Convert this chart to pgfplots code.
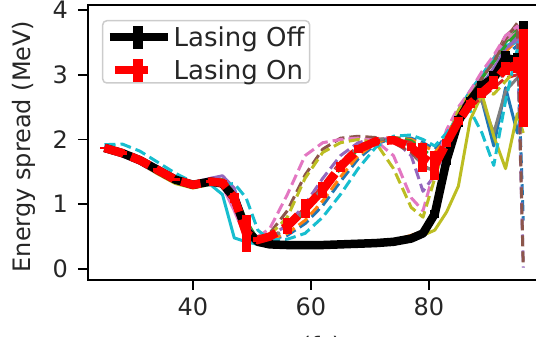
\documentclass[border=0pt]{standalone}
\usepackage{fontspec}
\setmainfont{DejaVu Sans}
\usepackage{pgfplots}
\usepackage{pgfplotstable}
\pgfplotsset{compat=1.18}
\definecolor{tb}{HTML}{1F77B4}
\definecolor{to}{HTML}{FF7F0E}
\definecolor{tg}{HTML}{2CA02C}
\definecolor{tr}{HTML}{D62728}
\definecolor{tp}{HTML}{9467BD}
\definecolor{tbr}{HTML}{8C564B}
\definecolor{tpk}{HTML}{E377C2}
\definecolor{tgy}{HTML}{7F7F7F}
\definecolor{tol}{HTML}{BCBD22}
\definecolor{tcy}{HTML}{17BECF}

\pgfplotstableread{
x b o g r p br pk gy ol cy m e
25 1.86 1.88 1.85 1.84 1.90 1.87 1.83 1.86 1.85 1.88 1.87 0.02
28 1.78 1.80 1.77 1.76 1.82 1.79 1.75 1.78 1.76 1.81 1.79 0.02
31 1.66 1.69 1.67 1.64 1.72 1.68 1.63 1.67 1.64 1.70 1.68 0.02
34 1.50 1.53 1.51 1.48 1.58 1.52 1.47 1.51 1.47 1.55 1.53 0.02
37 1.36 1.39 1.37 1.34 1.43 1.38 1.33 1.37 1.32 1.40 1.38 0.02
40 1.28 1.31 1.29 1.27 1.33 1.30 1.26 1.29 1.25 1.31 1.30 0.02
43 1.34 1.36 1.35 1.33 1.40 1.36 1.32 1.34 1.31 1.30 1.35 0.02
45 1.30 1.33 1.38 1.30 1.44 1.34 1.28 1.32 1.30 1.15 1.32 0.04
47 1.05 1.10 1.20 0.95 1.25 1.12 0.90 1.05 1.15 0.48 1.10 0.08
49 0.55 0.60 0.75 0.50 0.70 0.62 0.48 0.55 0.65 0.42 0.60 0.06
51 0.40 0.42 0.45 0.40 0.44 0.42 0.39 0.41 0.43 0.38 0.42 0.01
53 0.37 0.38 0.39 0.37 0.38 0.38 0.36 0.37 0.38 0.36 0.38 0.01
56 0.36 0.37 0.37 0.36 0.37 0.37 0.36 0.36 0.37 0.36 0.37 0.01
59 0.36 0.37 0.37 0.36 0.37 0.36 0.36 0.36 0.37 0.36 0.37 0.01
62 0.37 0.37 0.37 0.36 0.37 0.37 0.36 0.37 0.37 0.37 0.37 0.01
65 0.37 0.38 0.38 0.37 0.38 0.38 0.37 0.37 0.38 0.37 0.38 0.01
68 0.38 0.39 0.39 0.38 0.39 0.39 0.38 0.38 0.39 0.38 0.39 0.01
71 0.40 0.41 0.40 0.39 0.40 0.40 0.39 0.40 0.40 0.40 0.40 0.01
74 0.42 0.44 0.42 0.41 0.42 0.42 0.41 0.42 0.42 0.42 0.42 0.01
77 0.47 0.52 0.47 0.46 0.47 0.48 0.46 0.47 0.46 0.47 0.47 0.01
79 0.55 0.58 0.55 0.54 0.55 0.56 0.54 0.55 0.52 0.56 0.55 0.02
81 0.90 0.85 0.95 0.80 0.85 0.90 0.88 0.82 0.60 0.95 0.85 0.06
83 1.75 1.65 1.80 1.55 1.70 1.75 1.80 1.60 0.88 1.85 1.68 0.08
85 2.35 2.25 2.40 2.20 2.30 2.35 2.45 2.25 1.28 2.45 2.28 0.08
87 2.65 2.60 2.70 2.55 2.65 2.70 2.75 2.55 2.30 2.75 2.60 0.06
89 2.60 2.85 2.95 2.75 2.85 2.95 3.00 2.60 2.70 3.00 2.83 0.08
91 1.90 3.05 3.20 2.90 3.10 3.25 3.25 2.10 2.05 3.25 2.95 0.10
93 2.80 3.35 3.50 3.10 3.40 3.60 3.55 2.75 1.55 3.45 3.26 0.10
95 2.10 3.55 3.70 3.30 3.60 3.75 3.65 2.95 2.40 3.50 3.22 0.12
96 2.60 3.40 3.65 3.45 3.20 3.70 3.50 2.80 2.10 3.30 3.18 0.65
}\offtab

\pgfplotstableread{
x b o g r p br pk gy ol cy m e
25 1.85 1.87 1.86 1.83 1.89 1.86 1.84 1.85 1.86 1.92 1.87 0.02
28 1.77 1.79 1.78 1.75 1.81 1.78 1.76 1.77 1.78 1.93 1.79 0.03
31 1.66 1.68 1.67 1.64 1.71 1.67 1.65 1.66 1.67 1.82 1.68 0.03
34 1.51 1.53 1.52 1.49 1.56 1.52 1.50 1.51 1.52 1.65 1.53 0.03
37 1.37 1.39 1.38 1.35 1.42 1.38 1.36 1.37 1.38 1.48 1.38 0.02
40 1.29 1.31 1.30 1.27 1.33 1.30 1.28 1.29 1.30 1.34 1.30 0.02
43 1.34 1.36 1.35 1.33 1.40 1.36 1.34 1.35 1.36 1.36 1.35 0.02
45 1.31 1.34 1.36 1.30 1.42 1.34 1.30 1.33 1.35 1.30 1.33 0.04
47 1.05 1.10 1.15 1.00 1.20 1.10 1.00 1.08 1.12 1.32 1.10 0.08
49 0.55 0.60 0.62 0.50 0.65 0.62 0.55 0.58 0.60 1.10 0.55 0.28
51 0.43 0.44 0.45 0.42 0.45 0.48 0.50 0.44 0.46 0.60 0.45 0.04
53 0.45 0.46 0.48 0.47 0.50 0.55 0.62 0.48 0.52 0.45 0.50 0.04
56 0.52 0.55 0.62 0.66 0.68 0.90 1.15 0.62 0.80 0.46 0.66 0.12
59 0.70 0.75 0.88 0.95 1.00 1.45 1.75 0.92 1.40 0.55 0.93 0.15
62 0.98 1.05 1.20 1.30 1.40 1.85 1.95 1.25 1.80 0.80 1.22 0.12
65 1.35 1.42 1.55 1.65 1.75 2.02 2.00 1.62 1.95 1.15 1.58 0.08
68 1.70 1.75 1.85 1.90 1.95 2.05 2.02 1.88 2.00 1.55 1.85 0.06
71 1.93 1.95 1.98 2.00 2.02 2.03 1.98 2.00 1.95 1.88 1.97 0.04
74 2.02 2.03 2.03 2.02 2.00 1.95 1.75 2.02 1.55 2.05 1.99 0.04
77 2.02 2.00 1.98 1.95 1.75 1.80 1.10 1.90 0.95 2.07 1.88 0.06
79 1.95 1.92 1.85 1.80 1.20 1.60 0.90 1.55 0.80 2.00 1.72 0.22
81 1.85 1.80 1.70 1.75 1.45 1.50 1.55 1.55 1.40 1.90 1.60 0.22
83 2.05 2.00 2.05 1.95 1.90 2.00 2.15 1.95 2.00 2.10 1.95 0.06
85 2.40 2.35 2.40 2.30 2.30 2.40 2.50 2.30 2.45 2.35 2.28 0.06
87 2.65 2.60 2.70 2.50 2.60 2.70 2.75 2.55 2.70 2.45 2.55 0.06
89 2.85 2.75 2.95 2.65 2.85 2.95 3.05 2.70 2.75 2.10 2.72 0.08
91 3.05 2.90 3.20 2.80 3.10 3.20 3.30 2.85 2.70 1.60 2.88 0.10
93 3.30 3.10 3.45 2.95 3.40 3.55 3.60 3.05 2.90 2.60 3.10 0.10
95 3.45 3.30 3.65 3.00 3.55 3.80 3.75 3.20 3.10 3.40 3.15 0.12
96 0.75 3.20 3.50 2.90 0.02 0.03 3.60 3.00 3.00 2.20 2.95 0.75
}\ontab

\pgfplotsset{
  thinl/.style={line width=3pt, line join=round, forget plot},
  dsh/.style={dash pattern=on 11pt off 5pt},
}
\newcommand\fnt{\fontsize{24}{28}\selectfont}
\newcommand\lfnt{\fontsize{26}{30}\selectfont}

\begin{document}
\begin{tikzpicture}
\begin{axis}[
  scale only axis, width=450pt, height=275pt,
  xmin=22.2, xmax=98.5, ymin=-0.17, ymax=4.077,
  xtick={40,60,80}, ytick={0,1,2,3,4},
  xtick pos=lower, ytick pos=left,
  tick align=outside, major tick length=10pt,
  every tick/.style={black, line width=1.6pt},
  axis line style={line width=1.6pt},
  /pgf/number format/assume math mode=true,
  tick label style={font=\fnt, text=black!85},
  yticklabel style={inner xsep=0pt, xshift=-10pt},
  xticklabel style={inner ysep=0pt, yshift=-7pt},
  ylabel={Energy spread (MeV)},
  every axis y label/.style={at={(axis description cs:0,0.5)}, xshift=-64pt, yshift=-4pt, rotate=90, anchor=center, font=\fnt, text=black!85},
  xlabel={t (fs)},
  every axis x label/.style={at={(axis description cs:0.5,0)}, yshift=-56pt, anchor=north, inner sep=0pt, font=\fnt, text=black!85},
  legend style={font=\lfnt, text=black!85, draw=black!20, line width=1.5pt,
    rounded corners=4pt, at={(rel axis cs:0,1)}, anchor=north west, xshift=14pt, yshift=-15pt,
    inner xsep=3pt, inner ysep=0pt, row sep=4pt},
  legend cell align=left,
]
\addlegendimage{black, legend image code/.code={
  \draw[black, sharp corners, line width=8pt] (0pt,0pt) -- (58pt,0pt);
  \draw[black, sharp corners, line width=10pt] (28pt,-11.5pt) -- (28pt,11.5pt);
  \path[draw=none] (0pt,0pt) -- (61pt,0pt);}}
\addlegendentry{Lasing Off}
\addlegendimage{red, legend image code/.code={
  \fill[red, draw=none, sharp corners] (5pt,-4pt) rectangle (38pt,4pt);
  \fill[red, draw=none, sharp corners] (23pt,-11.5pt) rectangle (33pt,11.5pt);
  \path[draw=none] (0pt,0pt) -- (61pt,0pt);}}
\addlegendentry{Lasing On}

\addplot[thinl, tb]  table[x=x,y=b]  {\offtab};
\addplot[thinl, to]  table[x=x,y=o]  {\offtab};
\addplot[thinl, tg]  table[x=x,y=g]  {\offtab};
\addplot[thinl, tr]  table[x=x,y=r]  {\offtab};
\addplot[thinl, tp]  table[x=x,y=p]  {\offtab};
\addplot[thinl, tbr] table[x=x,y=br] {\offtab};
\addplot[thinl, tpk] table[x=x,y=pk] {\offtab};
\addplot[thinl, tgy] table[x=x,y=gy] {\offtab};
\addplot[thinl, tol] table[x=x,y=ol] {\offtab};
\addplot[thinl, tcy] table[x=x,y=cy] {\offtab};

\addplot[thinl, dsh, tb]  table[x=x,y=b]  {\ontab};
\addplot[thinl, dsh, to]  table[x=x,y=o]  {\ontab};
\addplot[thinl, dsh, tg]  table[x=x,y=g]  {\ontab};
\addplot[thinl, dsh, tr]  table[x=x,y=r]  {\ontab};
\addplot[thinl, dsh, tp]  table[x=x,y=p]  {\ontab};
\addplot[thinl, dsh, tbr] table[x=x,y=br] {\ontab};
\addplot[thinl, dsh, tpk] table[x=x,y=pk] {\ontab};
\addplot[thinl, dsh, tgy] table[x=x,y=gy] {\ontab};
\addplot[thinl, dsh, tol] table[x=x,y=ol] {\ontab};
\addplot[thinl, dsh, tcy] table[x=x,y=cy] {\ontab};

\addplot[black, line width=8.5pt, line join=round, forget plot,
  error bars/.cd, y dir=both, y explicit, error mark=none,
  error bar style={solid, line width=9pt, black}]
  table[x=x, y=m, y error=e] {\offtab};
\addplot[red, line width=8.5pt, dash pattern=on 20pt off 8pt, forget plot,
  error bars/.cd, y dir=both, y explicit, error mark=none,
  error bar style={solid, line width=9pt, red}]
  table[x=x, y=m, y error=e] {\ontab};
\end{axis}
\pgfresetboundingbox
\path[use as bounding box] (current axis.south west) ++(-88pt,-57pt) rectangle ++(536pt,337pt);
\end{tikzpicture}
\end{document}
